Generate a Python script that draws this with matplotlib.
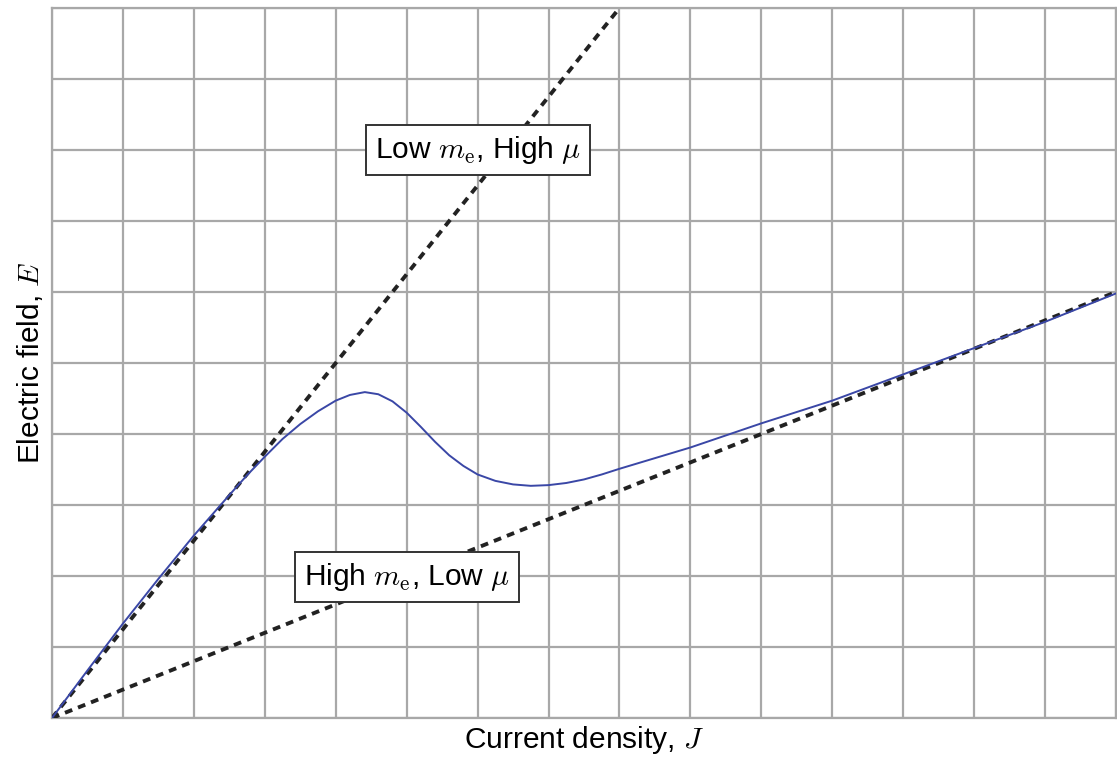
import matplotlib.pyplot as plt

plt.rcParams['font.family'] = ['Liberation Sans', 'DejaVu Sans']
plt.rcParams['mathtext.fontset'] = 'cm'

# blue E(J) curve (grid units)
j_curve = [0, 0.5, 1, 1.5, 2, 2.5, 2.75, 3, 3.25, 3.5, 3.75, 4, 4.2, 4.41,
           4.6, 4.8, 5, 5.2, 5.4, 5.6, 5.8, 6, 6.25, 6.5, 6.75, 7, 7.25, 7.5,
           7.75, 8, 8.5, 9, 9.5, 10, 10.5, 11, 12, 13, 14, 15]
e_curve = [0, 0.67, 1.33, 1.96, 2.57, 3.14, 3.42, 3.68, 3.93, 4.14, 4.32, 4.47,
           4.55, 4.59, 4.56, 4.46, 4.30, 4.10, 3.89, 3.70, 3.55, 3.43, 3.34,
           3.29, 3.27, 3.28, 3.31, 3.36, 3.43, 3.51, 3.66, 3.81, 3.98, 4.15,
           4.31, 4.47, 4.84, 5.21, 5.58, 5.98]

# limiting straight lines
j_high_mu = [0, 8]
e_high_mu = [0, 10]
j_low_mu = [0, 15]
e_low_mu = [0, 6]

fig = plt.figure(figsize=(11.17, 7.62), dpi=100)
ax = fig.add_axes([52 / 1117, 44 / 762, 1064 / 1117, 710 / 762])

ax.plot(j_high_mu, e_high_mu, color='#222222', lw=2.8, ls=(0, (2, 1.6)), zorder=3)
ax.plot(j_low_mu, e_low_mu, color='#222222', lw=2.8, ls=(0, (2, 1.6)), zorder=3)
ax.plot(j_curve, e_curve, color='#3a47a6', lw=1.4, zorder=4)

ax.set_xlim(0, 15)
ax.set_ylim(0, 10)
ax.set_xticks(range(16))
ax.set_yticks(range(11))
ax.tick_params(length=0, labelbottom=False, labelleft=False)
ax.grid(True, color='#a8a8a8', lw=1.6)
for s in ax.spines.values():
    s.set_color('#a8a8a8')
    s.set_linewidth(1.6)

box = dict(boxstyle='square,pad=0.3', fc='white', ec='#333333', lw=1.4)
ax.text(6.01, 8.0, r'Low $m_{\rm e}$, High $\mu$', fontsize=21.5, ha='center',
        va='center', bbox=box, zorder=5)
ax.text(5.01, 1.98, r'High $m_{\rm e}$, Low $\mu$', fontsize=21.5, ha='center',
        va='center', bbox=box, zorder=5)

ax.set_xlabel('Current density, $J$', fontsize=21.5, labelpad=4)
ax.set_ylabel('Electric field, $E$', fontsize=21.5, labelpad=5)

fig.savefig('out.png', dpi=100)
